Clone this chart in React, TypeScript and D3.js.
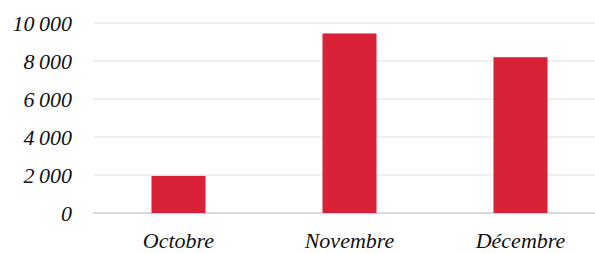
import React from "react";
import * as d3 from "d3";

const categories = ["Octobre", "Novembre", "Décembre"];
const values = [1950, 9450, 8200];
const yTicks = [0, 2000, 4000, 6000, 8000, 10000];

const W = 595;
const H = 253;

export default function App() {
  const x = d3.scaleBand<string>().domain(categories).range([93, 606]).paddingInner(0.684).paddingOuter(0.342);
  const y = d3.scaleLinear().domain([0, 10000]).range([213, 23]);
  const fmt = (v: number) => d3.format(",")(v).replace(/,/g, "\u202F");
  const font = "'Liberation Serif', 'Times New Roman', serif";
  return (
    <svg width={W} height={H} style={{ position: "absolute", left: 0, top: 0 }} fontFamily={font}>
      <rect width={W} height={H} fill="#fff" />
      {yTicks.map((t) => (
        <g key={t}>
          <line x1={93} x2={W} y1={y(t)} y2={y(t)} stroke={t === 0 ? "#d9d9d9" : "#f0f0f0"} strokeWidth={2} />
          <text x={72} y={y(t)} dy="0.35em" textAnchor="end" fontSize={22} fontStyle="italic" fill="#111">
            {fmt(t)}
          </text>
        </g>
      ))}
      {categories.map((c, i) => (
        <rect key={c} x={x(c)} y={y(values[i])} width={x.bandwidth()} height={y(0) - y(values[i])} fill="#d92237" />
      ))}
      {categories.map((c) => (
        <text key={c} x={(x(c) as number) + x.bandwidth() / 2} y={248} textAnchor="middle" fontSize={22} fontStyle="italic" fill="#111">
          {c}
        </text>
      ))}
    </svg>
  );
}
